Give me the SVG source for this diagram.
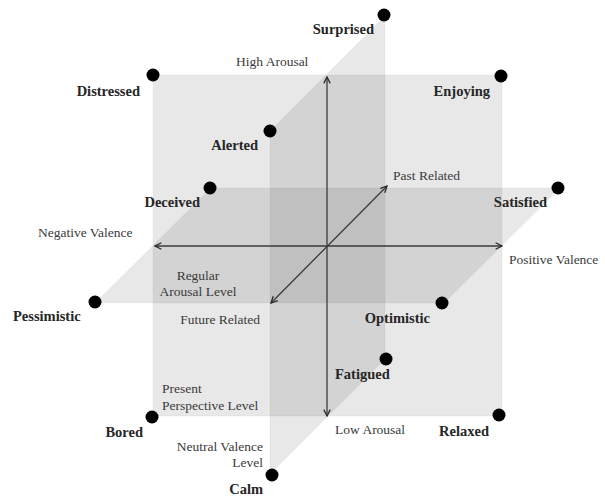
<svg xmlns="http://www.w3.org/2000/svg" width="605" height="499" viewBox="0 0 605 499">
<defs>
<style>
.plane{fill:#000;fill-opacity:0.09;stroke:#000;stroke-opacity:0.03;stroke-width:1}
.axis{stroke:#3a3a3a;stroke-width:1.3;fill:none;marker-start:url(#ah);marker-end:url(#ah)}
.dot{fill:#000}
.b{font-family:"Liberation Serif","Times New Roman",serif;font-weight:bold;font-size:14.5px;fill:#262626}
.r{font-family:"Liberation Serif","Times New Roman",serif;font-size:13.5px;fill:#3a3a3a}
.e{text-anchor:end}
.m{text-anchor:middle}
</style>
<marker id="ah" viewBox="0 0 10 10" refX="9" refY="5" markerWidth="8" markerHeight="8" markerUnits="userSpaceOnUse" orient="auto-start-reverse">
<path d="M1,1 L9,5 L1,9" fill="none" stroke="#2a2a2a" stroke-width="1.6"/>
</marker>
</defs>
<rect width="605" height="499" fill="#fff"/>
<g id="planes">
<rect id="present-plane" class="plane" x="153" y="75" width="349" height="341"/>
<polygon id="arousal-plane" class="plane" points="211,188 560,188 444,303 95,303"/>
<polygon id="valence-plane" class="plane" points="385,16 270,131 270,474 385,359"/>
</g>
<g id="connectors">
<line id="arousal-axis" class="axis" x1="327" y1="416" x2="327" y2="77"/>
<line id="valence-axis" class="axis" x1="155" y1="246" x2="502" y2="246"/>
<line id="time-axis" class="axis" x1="271" y1="303" x2="387" y2="186"/>
</g>
<g id="axis-labels">
<text class="r" x="236" y="66">High Arousal</text>
<text class="r" x="393" y="180">Past Related</text>
<text class="r" x="38" y="237">Negative Valence</text>
<text class="r" x="509" y="264">Positive Valence</text>
<text class="r m" x="198" y="280">Regular</text>
<text class="r m" x="198" y="296">Arousal Level</text>
<text class="r e" x="260" y="324">Future Related</text>
<text class="r" x="162" y="393">Present</text>
<text class="r" x="162" y="410">Perspective Level</text>
<text class="r" x="335" y="434">Low Arousal</text>
<text class="r e" x="263" y="451">Neutral Valence</text>
<text class="r e" x="263" y="467">Level</text>
</g>
<g id="surprised"><circle class="dot" cx="384" cy="15" r="6.5"/><text class="b e" x="374" y="34">Surprised</text></g>
<g id="distressed"><circle class="dot" cx="153" cy="75" r="6.5"/><text class="b e" x="140" y="96">Distressed</text></g>
<g id="enjoying"><circle class="dot" cx="501" cy="76" r="6.5"/><text class="b e" x="490" y="96">Enjoying</text></g>
<g id="alerted"><circle class="dot" cx="270" cy="131" r="6.5"/><text class="b e" x="258" y="150">Alerted</text></g>
<g id="deceived"><circle class="dot" cx="210" cy="188" r="6.5"/><text class="b e" x="200" y="207">Deceived</text></g>
<g id="satisfied"><circle class="dot" cx="558" cy="188" r="6.5"/><text class="b e" x="547" y="207">Satisfied</text></g>
<g id="pessimistic"><circle class="dot" cx="95" cy="302" r="6.5"/><text class="b" x="13" y="321">Pessimistic</text></g>
<g id="optimistic"><circle class="dot" cx="442" cy="303" r="6.5"/><text class="b e" x="430" y="323">Optimistic</text></g>
<g id="fatigued"><circle class="dot" cx="386" cy="359" r="6.5"/><text class="b" x="335" y="379">Fatigued</text></g>
<g id="bored"><circle class="dot" cx="152" cy="417" r="6.5"/><text class="b e" x="143" y="437">Bored</text></g>
<g id="relaxed"><circle class="dot" cx="499" cy="415" r="6.5"/><text class="b e" x="489" y="436">Relaxed</text></g>
<g id="calm"><circle class="dot" cx="272" cy="475" r="6.5"/><text class="b e" x="263" y="494">Calm</text></g>
</svg>
